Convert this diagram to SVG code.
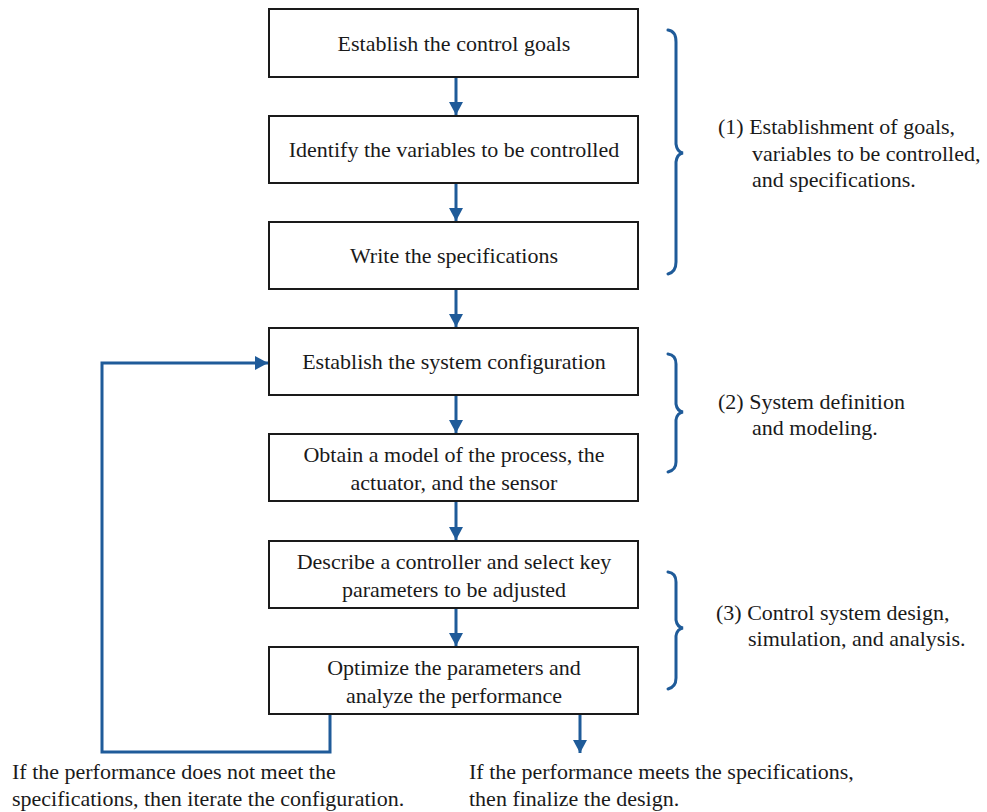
<svg xmlns="http://www.w3.org/2000/svg" width="987" height="812" viewBox="0 0 987 812">
<style>
.box{fill:#fff;stroke:#1a1a1a;stroke-width:2}
.t{font-family:"Liberation Serif","Times New Roman",serif;font-size:22px;fill:#1a1a1a}
.c{text-anchor:middle}
.con{fill:none;stroke:#1f5b99;stroke-width:3}
.br{fill:none;stroke:#1f5b99;stroke-width:3;stroke-linecap:round}
</style>
<defs>
<marker id="ah" markerUnits="userSpaceOnUse" markerWidth="14" markerHeight="14" viewBox="0 0 14 14" refX="13" refY="7" orient="auto">
<path d="M0,0 L13,7 L0,14 Z" fill="#1f5b99"/>
</marker>
</defs>
<rect width="987" height="812" fill="#fff"/>
<g id="connectors">
<line class="con" x1="456" y1="77" x2="456" y2="115" marker-end="url(#ah)"/>
<line class="con" x1="456" y1="183" x2="456" y2="221" marker-end="url(#ah)"/>
<line class="con" x1="456" y1="289" x2="456" y2="327" marker-end="url(#ah)"/>
<line class="con" x1="456" y1="395" x2="456" y2="433" marker-end="url(#ah)"/>
<line class="con" x1="456" y1="501" x2="456" y2="540" marker-end="url(#ah)"/>
<line class="con" x1="456" y1="608" x2="456" y2="646" marker-end="url(#ah)"/>
<polyline class="con" points="330,714 330,752 102,752 102,363 268,363" marker-end="url(#ah)"/>
<line class="con" x1="580" y1="714" x2="580" y2="753" marker-end="url(#ah)"/>
</g>
<g id="n1"><rect class="box" x="269" y="9" width="369" height="68"/><text class="t c" x="454" y="51">Establish the control goals</text></g>
<g id="n2"><rect class="box" x="269" y="116" width="369" height="67"/><text class="t c" x="454" y="157">Identify the variables to be controlled</text></g>
<g id="n3"><rect class="box" x="269" y="222" width="369" height="67"/><text class="t c" x="454" y="263">Write the specifications</text></g>
<g id="n4"><rect class="box" x="269" y="328" width="369" height="67"/><text class="t c" x="454" y="369">Establish the system configuration</text></g>
<g id="n5"><rect class="box" x="269" y="434" width="369" height="67"/><text class="t c" x="454" y="462">Obtain a model of the process, the</text><text class="t c" x="454" y="490">actuator, and the sensor</text></g>
<g id="n6"><rect class="box" x="269" y="541" width="369" height="67"/><text class="t c" x="454" y="569">Describe a controller and select key</text><text class="t c" x="454" y="597">parameters to be adjusted</text></g>
<g id="n7"><rect class="box" x="269" y="647" width="369" height="67"/><text class="t c" x="454" y="675">Optimize the parameters and</text><text class="t c" x="454" y="703">analyze the performance</text></g>
<g id="brace1"><path class="br" d="M668,30 Q676,31 676,42 L676,144 Q677,152 683,153 Q677,154 676,162 L676,262 Q676,272 668,274"/></g>
<g id="brace2"><path class="br" d="M668,354 Q676,355 676,364 L676,404 Q677,411 683,412 Q677,413 676,420 L676,462 Q676,470 668,472"/></g>
<g id="brace3"><path class="br" d="M668,572 Q676,573 676,582 L676,620 Q677,627 683,628 Q677,629 676,636 L676,678 Q676,687 668,689"/></g>
<g id="label1"><text class="t" x="718" y="134">(1) Establishment of goals,</text><text class="t" x="752" y="161">variables to be controlled,</text><text class="t" x="752" y="187">and specifications.</text></g>
<g id="label2"><text class="t" x="718" y="409">(2) System definition</text><text class="t" x="752" y="435">and modeling.</text></g>
<g id="label3"><text class="t" x="716" y="620">(3) Control system design,</text><text class="t" x="748" y="646">simulation, and analysis.</text></g>
<g id="out1"><text class="t" x="12" y="779">If the performance does not meet the</text><text class="t" x="12" y="806">specifications, then iterate the configuration.</text></g>
<g id="out2"><text class="t" x="469" y="779">If the performance meets the specifications,</text><text class="t" x="469" y="806">then finalize the design.</text></g>
</svg>
